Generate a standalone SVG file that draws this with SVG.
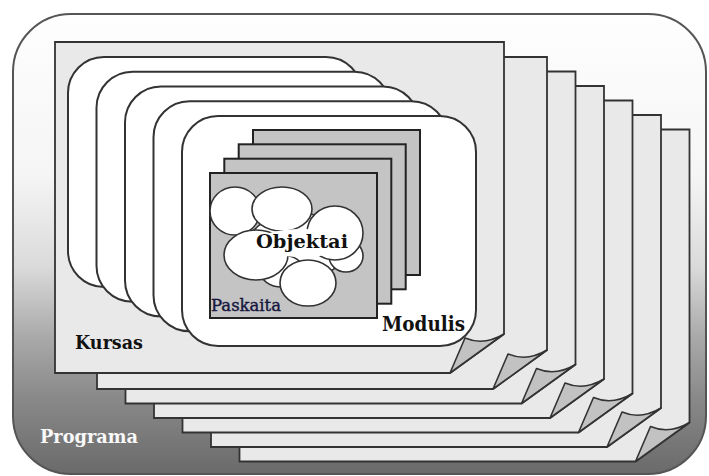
<svg xmlns="http://www.w3.org/2000/svg" width="709" height="476" viewBox="0 0 709 476">
  <defs>
    <linearGradient id="bg" gradientUnits="userSpaceOnUse" x1="0" y1="14" x2="0" y2="474">
      <stop offset="0" stop-color="#fefefe"/>
      <stop offset="0.35" stop-color="#f5f5f5"/>
      <stop offset="0.55" stop-color="#dadada"/>
      <stop offset="0.7" stop-color="#aaaaaa"/>
      <stop offset="0.83" stop-color="#8a8a8a"/>
      <stop offset="1" stop-color="#6a6a6a"/>
    </linearGradient>
  </defs>
  <style>
    .page { fill: #e9e9e9; stroke: #333; stroke-width: 1.8; stroke-linejoin: miter; }
    .fold { fill: #c2c2c2; stroke: #333; stroke-width: 1.6; stroke-linejoin: round; }
    .mod { fill: #ffffff; stroke: #333; stroke-width: 2; }
    .pask { fill: #c4c4c4; stroke: #222; stroke-width: 2; }
    .cl { fill: #ffffff; stroke: #333; stroke-width: 1.6; }
    .lbl { font-family: "DejaVu Serif", "Liberation Serif", serif; font-weight: bold; fill: #111; }
  </style>

  <g id="programa">
    <rect x="13" y="14" width="693" height="460" rx="58" ry="58" fill="url(#bg)" stroke="#555" stroke-width="2"/>
  </g>

  <g id="kursas">
    <path class="page" d="M239.5 129.5H689.5V422.5L635.5 461.5H239.5Z"/>
    <path class="fold" d="M689.5 422.5Q669.5 434.5 650.5 426.5L635.5 461.5Z"/>
    <path class="page" d="M211 115H661V408L607 447H211Z"/>
    <path class="fold" d="M661 408Q641 420 622 412L607 447Z"/>
    <path class="page" d="M182.5 100.5H632.5V393.5L578.5 432.5H182.5Z"/>
    <path class="fold" d="M632.5 393.5Q612.5 405.5 593.5 397.5L578.5 432.5Z"/>
    <path class="page" d="M154 86H604V379L550 418H154Z"/>
    <path class="fold" d="M604 379Q584 391 565 383L550 418Z"/>
    <path class="page" d="M125.5 71.5H575.5V364.5L521.5 403.5H125.5Z"/>
    <path class="fold" d="M575.5 364.5Q555.5 376.5 536.5 368.5L521.5 403.5Z"/>
    <path class="page" d="M97 57H547V350L493 389H97Z"/>
    <path class="fold" d="M547 350Q527 362 508 354L493 389Z"/>
    <path class="page" d="M55 42H504V334L450 373H55Z"/>
    <path class="fold" d="M504 334Q484 346 465 338L450 373Z"/>
  </g>

  <g id="modulis">
    <rect class="mod" x="68" y="57" width="294" height="230" rx="36" ry="36"/>
    <rect class="mod" x="96.5" y="71.75" width="294" height="230" rx="36" ry="36"/>
    <rect class="mod" x="125" y="86.5" width="294" height="230" rx="36" ry="36"/>
    <rect class="mod" x="153.5" y="101.25" width="294" height="230" rx="36" ry="36"/>
    <rect class="mod" x="182" y="116" width="294" height="230" rx="36" ry="36"/>
  </g>

  <g id="paskaita">
    <rect class="pask" x="253" y="130" width="167" height="145"/>
    <rect class="pask" x="238.7" y="144.3" width="167" height="145"/>
    <rect class="pask" x="224.3" y="158.7" width="167" height="145"/>
    <rect class="pask" x="210" y="173" width="167" height="145"/>
  </g>

  <g id="objektai">
    <ellipse class="cl" cx="298" cy="246" rx="50" ry="33"/>
    <ellipse class="cl" cx="346" cy="256" rx="17" ry="16"/>
    <ellipse class="cl" cx="282" cy="271" rx="22" ry="16"/>
    <ellipse class="cl" cx="235" cy="211" rx="25" ry="24"/>
    <ellipse class="cl" cx="282" cy="209" rx="30" ry="22"/>
    <ellipse class="cl" cx="335" cy="233" rx="28" ry="27"/>
    <ellipse class="cl" cx="256" cy="255" rx="32" ry="25"/>
    <ellipse cx="302" cy="243" rx="46" ry="14" fill="#ffffff"/>
    <ellipse class="cl" cx="308" cy="283" rx="28" ry="23"/>
  </g>

  <g id="connectors"/>

  <g id="labels">
    <text class="lbl" x="256" y="248" font-size="19" textLength="92" lengthAdjust="spacingAndGlyphs">Objektai</text>
    <text x="211" y="311" font-family="'DejaVu Serif', 'Liberation Serif', serif" font-size="16" fill="#16163f" stroke="#16163f" stroke-width="0.4" textLength="70" lengthAdjust="spacingAndGlyphs">Paskaita</text>
    <text class="lbl" x="382" y="331" font-size="20" textLength="83" lengthAdjust="spacingAndGlyphs">Modulis</text>
    <text class="lbl" x="75" y="349" font-size="18" textLength="68" lengthAdjust="spacingAndGlyphs">Kursas</text>
    <text x="40" y="443" font-family="'DejaVu Serif', 'Liberation Serif', serif" font-weight="bold" font-size="19" fill="#f8f8f8" textLength="98" lengthAdjust="spacingAndGlyphs">Programa</text>
  </g>
</svg>
